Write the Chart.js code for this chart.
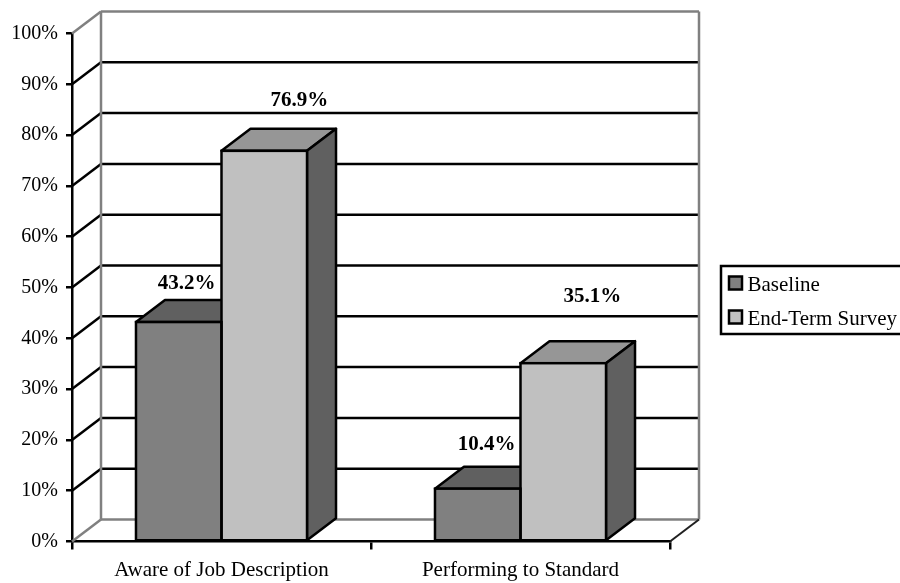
<!DOCTYPE html>
<html>
<head>
<meta charset="utf-8">
<title>Job description awareness</title>
<script src="https://cdn.jsdelivr.net/npm/chart.js@4/dist/chart.umd.min.js"></script>
<style>
  html, body { margin: 0; padding: 0; background: #fff; overflow: hidden; }
  #box { width: 900px; height: 583px; }
</style>
</head>
<body>
<div id="box"><canvas id="g1" width="900" height="583"></canvas></div>
<script>
// data
var categories = ['Aware of Job Description', 'Performing to Standard'];
var seriesNames = ['Baseline', 'End-Term Survey'];
var baseline = [43.2, 10.4];
var endTerm = [76.9, 35.1];

// fake 3d depth of the plot box, in pixels
var DEPTH_X = 29;
var DEPTH_Y = 22;
var FONT = '"Liberation Serif", "Times New Roman", serif';
var LINE_W = 2.5;

// value labels were placed by hand, so each one has its own shift from the bar top
var labelShift = [
    [[8, -38], [9, -44]],
    [[35, -50], [29, -67]]
];

function line(ctx, x1, y1, x2, y2, color, width) {
    ctx.beginPath();
    ctx.moveTo(x1, y1);
    ctx.lineTo(x2, y2);
    ctx.strokeStyle = color;
    ctx.lineWidth = width;
    ctx.stroke();
}

function poly(ctx, pts, fill) {
    ctx.beginPath();
    ctx.moveTo(pts[0][0], pts[0][1]);
    for (var i = 1; i < pts.length; i++) {
        ctx.lineTo(pts[i][0], pts[i][1]);
    }
    ctx.closePath();
    ctx.fillStyle = fill;
    ctx.fill();
    ctx.strokeStyle = '#000';
    ctx.lineWidth = LINE_W;
    ctx.lineJoin = 'round';
    ctx.stroke();
}

// back wall, floor, slanted grid lines and the top/side faces of the bars
var wallsPlugin = {
    id: 'walls',
    beforeDatasetsDraw: function(chart) {
        var ctx = chart.ctx;
        var area = chart.chartArea;
        var yScale = chart.scales.y;
        var backL = area.left + DEPTH_X;
        var backR = area.right + DEPTH_X;
        ctx.save();
        yScale.ticks.forEach(function(t) {
            var y = yScale.getPixelForValue(t.value);
            var color = (t.value === 0 || t.value === 100) ? '#808080' : '#000';
            line(ctx, area.left, y, backL, y - DEPTH_Y, color, LINE_W);
            line(ctx, backL, y - DEPTH_Y, backR, y - DEPTH_Y, color, LINE_W);
        });
        var top = yScale.getPixelForValue(100) - DEPTH_Y;
        var floor = yScale.getPixelForValue(0) - DEPTH_Y;
        line(ctx, backL, top, backL, floor, '#808080', LINE_W);
        line(ctx, backR, top, backR, floor, '#808080', LINE_W);
        line(ctx, area.right, area.bottom, backR, floor, '#202020', 2);

        // the fronts are filled later by the bar elements and hide what they overlap
        chart.data.datasets.forEach(function(ds, i) {
            chart.getDatasetMeta(i).data.forEach(function(bar) {
                var l = bar.x - bar.width / 2;
                var r = bar.x + bar.width / 2;
                poly(ctx, [[l, bar.y], [l + DEPTH_X, bar.y - DEPTH_Y], [r + DEPTH_X, bar.y - DEPTH_Y], [r, bar.y]], ds.topColor);
                poly(ctx, [[r, bar.y], [r + DEPTH_X, bar.y - DEPTH_Y], [r + DEPTH_X, bar.base - DEPTH_Y], [r, bar.base]], ds.sideColor);
            });
        });
        ctx.restore();
    },
    afterDatasetsDraw: function(chart) {
        var ctx = chart.ctx;
        ctx.save();
        ctx.font = 'bold 21px ' + FONT;
        ctx.textAlign = 'center';
        ctx.textBaseline = 'middle';
        chart.data.datasets.forEach(function(ds, i) {
            chart.getDatasetMeta(i).data.forEach(function(bar, j) {
                // front outline, centred on the same edges as the other faces
                ctx.strokeStyle = '#000';
                ctx.lineWidth = LINE_W;
                ctx.strokeRect(bar.x - bar.width / 2, bar.y, bar.width, bar.base - bar.y);
                var s = labelShift[i][j];
                ctx.fillStyle = '#000';
                ctx.fillText(ds.data[j].toFixed(1) + '%', bar.x + s[0], bar.y + s[1]);
            });
        });
        ctx.restore();
    }
};

// legend frame runs off the right edge of the page
var legendPlugin = {
    id: 'sideLegend',
    afterDraw: function(chart) {
        var ctx = chart.ctx;
        ctx.save();
        ctx.strokeStyle = '#000';
        ctx.lineWidth = LINE_W;
        ctx.strokeRect(721, 266, 200, 68);
        ctx.font = '21px ' + FONT;
        ctx.textAlign = 'left';
        ctx.textBaseline = 'alphabetic';
        chart.data.datasets.forEach(function(ds, i) {
            var y = 276.5 + i * 34;
            ctx.fillStyle = ds.backgroundColor;
            ctx.fillRect(729, y, 13, 13);
            ctx.strokeRect(729, y, 13, 13);
            ctx.fillStyle = '#000';
            ctx.fillText(ds.label, 747.5, 291 + i * 34);
        });
        ctx.restore();
    }
};

var myChart = new Chart(document.getElementById('g1'), {
    type: 'bar',
    data: {
        labels: categories,
        datasets: [{
            label: seriesNames[0],
            data: baseline,
            backgroundColor: '#808080',
            topColor: '#606060',
            sideColor: '#606060'
        }, {
            label: seriesNames[1],
            data: endTerm,
            backgroundColor: '#c0c0c0',
            topColor: '#969696',
            sideColor: '#606060'
        }]
    },
    options: {
        responsive: false,
        animation: false,
        layout: { padding: { left: 0, top: 33.5, right: 230, bottom: 0 } },
        datasets: {
            bar: {
                borderWidth: 0,
                barPercentage: 1,
                categoryPercentage: 0.572
            }
        },
        plugins: {
            tooltip: { enabled: false },
            legend: { display: false }
        },
        scales: {
            x: {
                afterFit: function(s) { s.height = 41.5; },
                border: { color: '#000', width: 2.5 },
                grid: { drawOnChartArea: false, color: '#000', lineWidth: 2.5, tickLength: 8, tickColor: '#000' },
                ticks: { color: '#000', font: { family: FONT, size: 21 }, padding: 8, maxRotation: 0 }
            },
            y: {
                min: 0,
                max: 100,
                afterFit: function(s) { s.width = 72; },
                border: { color: '#000', width: 2.5 },
                grid: { drawOnChartArea: false, color: '#000', lineWidth: 2.5, tickLength: 6, tickColor: '#000' },
                ticks: {
                    stepSize: 10,
                    color: '#000',
                    padding: 8,
                    font: { family: FONT, size: 20 },
                    callback: function(v) { return v + '%'; }
                }
            }
        }
    },
    plugins: [wallsPlugin, legendPlugin]
});
</script>
</body>
</html>
